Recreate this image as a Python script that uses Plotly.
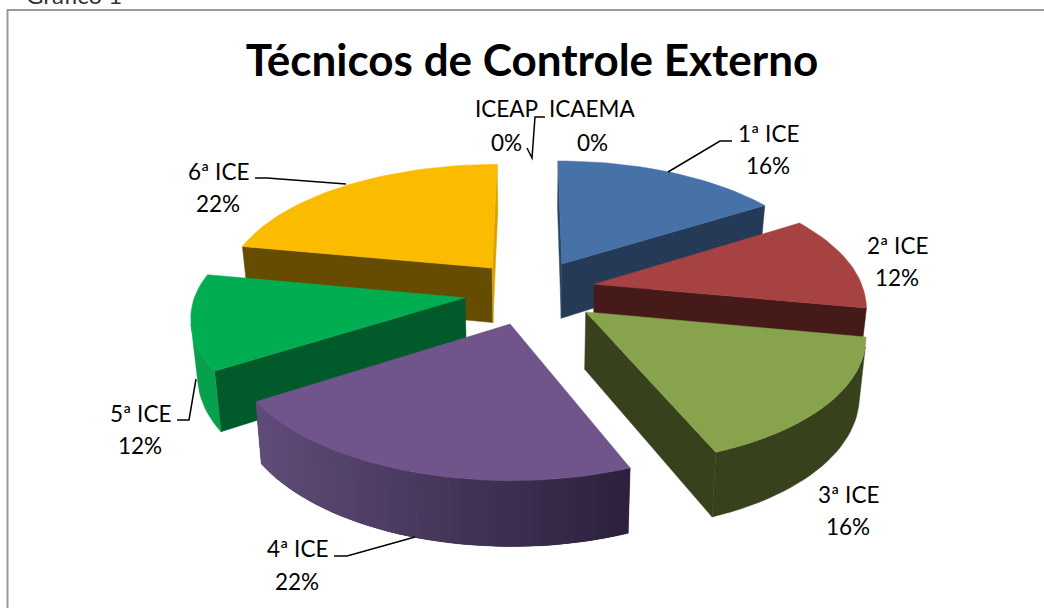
import math
import numpy as np
import plotly.graph_objects as go

# ---- data ----
categories = ["1ª ICE", "2ª ICE", "3ª ICE", "4ª ICE", "5ª ICE", "6ª ICE", "ICEAP", "ICAEMA"]
values = [16, 12, 16, 22, 12, 22, 0, 0]
title_text = "Técnicos de Controle Externo"

# ---- style ----
top_colors = ["#4672A8", "#A64342", "#87A44D", "#70558C", "#00AD50", "#FBBC00"]
start_wall = ["#2A4568", "#451A19", "#37421C", "#3A2C4E", "#005A2A", "#664C00"]
end_wall = ["#243A56", "#451A19", "#37421C", "#3A2C4E", "#005A2A", "#D8A300"]
rim_left = ["#243A56", "#451A19", "#37421C", "#604C79", "#07A04D", "#664C00"]
rim_right = ["#243A56", "#451A19", "#37421C", "#2C213C", "#07A04D", "#664C00"]
draw_order = [5, 0, 4, 1, 2, 3]
slice_nudge = [(-2, -2), (-3, -2), (0, 0), (-3, 2), (-3, 0), (0, -1)]
FONT = "Lato, Carlito, Calibri, sans-serif"

CX, CY, AX, AY, PERSP, EXPL = 533.0, 292.0, 269.0, 124.7, 0.143, 0.245


def proj(X, Y, n=(0, 0)):
    k = 1.0 / (1.0 - Y * PERSP)
    sx = CX + X * AX * k + 5 * max(Y, 0) + n[0]
    sy = CY + Y * AY * k + n[1]
    return sx, sy


def lower(X, Y, n=(0, 0)):
    sx, sy = proj(X, Y, n)
    return CX + (sx - CX) * 0.98, sy + 56 + 8 * Y


def hex2rgb(h):
    return [int(h[i:i + 2], 16) for i in (1, 3, 5)]


def mix(a, b, t):
    ca, cb = hex2rgb(a), hex2rgb(b)
    return "rgb(%d,%d,%d)" % tuple(round(p + (q - p) * t) for p, q in zip(ca, cb))


def signed(xs, ys):
    return sum(xs[i] * ys[(i + 1) % len(xs)] - xs[(i + 1) % len(xs)] * ys[i] for i in range(len(xs)))


fig = go.Figure()


def poly(xs, ys, color, lw=0.5):
    fig.add_trace(go.Scatter(
        x=list(xs) + [xs[0]], y=list(ys) + [ys[0]], mode="lines", fill="toself",
        fillcolor=color, line=dict(color=color, width=lw),
        hoverinfo="skip", showlegend=False))


total = sum(values)
edges = np.cumsum([0] + values) / total * 2 * math.pi

for i in draw_order:
    a0, a1 = edges[i], edges[i + 1]
    if a1 <= a0:
        continue
    n = slice_nudge[i]
    mid = (a0 + a1) / 2
    ex, ey = EXPL * math.sin(mid), -EXPL * math.cos(mid)
    thetas = np.linspace(a0, a1, max(int((a1 - a0) / math.radians(2.0)), 6) + 1)
    rim = [(ex + math.sin(t), ey - math.cos(t)) for t in thetas]
    apex = (ex, ey)

    # radial walls
    for P, sign, col in ((rim[0], -1, start_wall[i]), (rim[-1], 1, end_wall[i])):
        q = [proj(*apex, n), proj(*P, n), lower(*P, n), lower(*apex, n)]
        xs, ys = zip(*q)
        if signed(xs, ys) * sign > 0:
            poly(xs, ys, col)

    # outer rim: only the part that faces the viewer
    vis = []
    for j in range(len(rim) - 1):
        q = [proj(*rim[j], n), proj(*rim[j + 1], n), lower(*rim[j + 1], n), lower(*rim[j], n)]
        xs, ys = zip(*q)
        if signed(xs, ys) < 0:
            vis.append(j)
    if vis:
        band = rim[vis[0]:vis[-1] + 2]
        up = [proj(*p, n) for p in band]
        lo = [lower(*p, n) for p in band][::-1]
        xs, ys = zip(*(up + lo))
        if rim_left[i] == rim_right[i]:
            poly(xs, ys, rim_left[i])
        else:
            poly(xs, ys, mix(rim_left[i], rim_right[i], 0.5))
            # shading: overlapping strips, so that no seams appear
            for j in vis:
                j2 = min(j + 2, vis[-1] + 1)
                seg = rim[j:j2 + 1]
                up = [proj(*p, n) for p in seg]
                lo = [lower(*p, n) for p in seg][::-1]
                xs, ys = zip(*(up + lo))
                t = (xs[0] - 255) / (634 - 255)
                poly(xs, ys, mix(rim_left[i], rim_right[i], min(max(t, 0), 1)), lw=0)

    # top face
    pts = [proj(*apex, n)] + [proj(*p, n) for p in rim]
    xs, ys = zip(*pts)
    poly(xs, ys, top_colors[i])

# ---- labels (label on one line, percentage on the next) ----
label_pos = {
    "1ª ICE": (768, 133, 165), "2ª ICE": (897, 245, 277), "3ª ICE": (848, 494, 526),
    "4ª ICE": (297, 548, 581), "5ª ICE": (140, 413, 445), "6ª ICE": (218, 171, 203),
    "ICEAP": (506, 108, 142), "ICAEMA": (592, 108, 142),
}
annotations = []
for name, v in zip(categories, values):
    x, y1, y2 = label_pos[name]
    for txt, y in ((name, y1), (f"{round(100 * v / total)}%", y2)):
        annotations.append(dict(x=x, y=y, xref="x", yref="y", text=txt, showarrow=False,
                                xanchor="center", yanchor="middle",
                                font=dict(family=FONT, size=22.5, color="#000000")))
annotations.append(dict(x=24, y=3, xref="x", yref="y", text="Gráfico 1", showarrow=False,
                        xanchor="left", yanchor="bottom", yshift=-8,
                        font=dict(family=FONT, size=24, color="#333333")))

# ---- leader lines ----
leaders = [
    "M668,172 L720,141 L732,141",
    "M255,178 L267,178 L346,184",
    "M545,117 L535,117 L532,158 L527,148",
    "M177,420 L189,420 L196,379",
    "M334,556 L347,556 L415,537",
]
shapes = [dict(type="path", path=p, xref="x", yref="y",
               line=dict(color="#000000", width=1.5)) for p in leaders]
shapes.append(dict(type="rect", x0=7.5, x1=1080, y0=10, y1=640, xref="x", yref="y",
                   line=dict(color="#9A9A9A", width=2), fillcolor="rgba(0,0,0,0)", layer="below"))

fig.update_layout(
    width=1044, height=608, margin=dict(l=0, r=0, t=0, b=0),
    paper_bgcolor="#FFFFFF", plot_bgcolor="#FFFFFF",
    xaxis=dict(range=[0, 1044], visible=False, fixedrange=True),
    yaxis=dict(range=[608, 0], visible=False, fixedrange=True),
    title=dict(text=f"<b>{title_text}</b>", x=532 / 1044, y=1 - 61 / 608,
               xanchor="center", yanchor="middle",
               font=dict(family=FONT, size=44, color="#000000")),
    annotations=annotations, shapes=shapes, showlegend=False,
)

fig.write_html("out.html", config=dict(displayModeBar=False),
               post_script="document.body.style.margin='0';document.body.style.overflow='hidden';")
